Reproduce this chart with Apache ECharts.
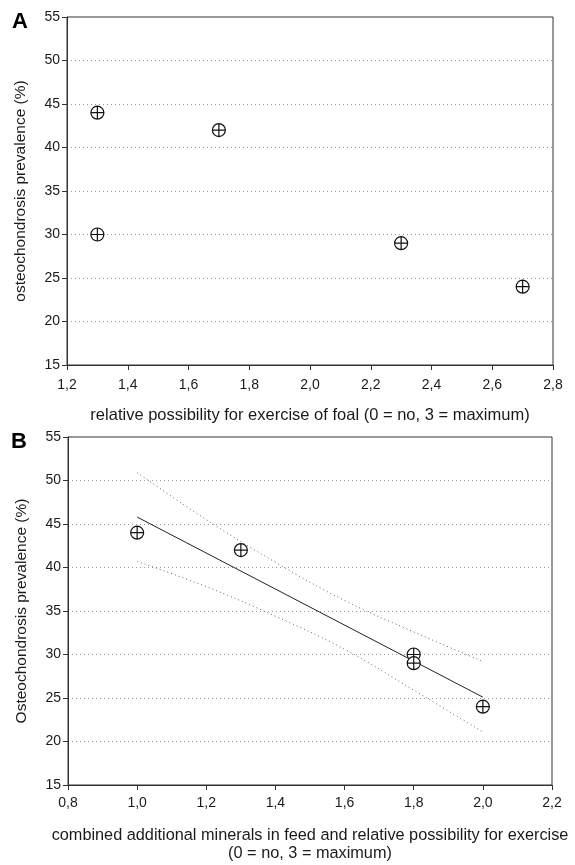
<!DOCTYPE html>
<html>
<head>
<meta charset="utf-8">
<script src="https://cdn.jsdelivr.net/npm/echarts@6/dist/echarts.min.js"></script>
<style>
html,body{margin:0;padding:0;background:#fff;}
#c{width:575px;height:865px;}
</style>
</head>
<body>
<div id="c"></div>
<script>
// Panel A data
const aX = [1.3, 1.3, 1.7, 2.3, 2.7];
const aY = [44, 30, 42, 29, 24];
// Panel B data
const bX = [1.0, 1.3, 1.8, 1.8, 2.0];
const bY = [44, 42, 30, 29, 24];
// Panel B regression line (endpoints)
const regX = [1.0, 2.0];
const regY = [45.8, 25.1];
// Panel B confidence band
const bandX = [1.0, 1.2, 1.4, 1.6, 1.8, 2.0];
const bandUpper = [50.9, 45.5, 40.6, 36.2, 32.6, 29.2];
const bandLower = [40.7, 37.8, 34.4, 30.6, 25.9, 21.1];
// Axis tick settings
const yTicks = {min: 15, max: 55, interval: 5};
const aXTicks = {min: 1.2, max: 2.8, interval: 0.2};
const bXTicks = {min: 0.8, max: 2.2, interval: 0.2};

const FONT = 'Liberation Sans, Arial, sans-serif';
const TXT = '#1a1a1a';
const marker = 'path://M0,-10A10,10 0 1,1 0,10A10,10 0 1,1 0,-10ZM-10,0L10,0M0,-10L0,10';
const fmt = v => v.toFixed(1).replace('.', ',');
const zip = (xs, ys) => xs.map((x, i) => [x, ys[i]]);

function xAxis(idx, t, name, gap, nameSize, margin) {
  return {
    type: 'value', gridIndex: idx, min: t.min, max: t.max, interval: t.interval,
    name: name, nameLocation: 'middle', nameGap: gap,
    nameTextStyle: {fontFamily: FONT, fontSize: nameSize, color: TXT, lineHeight: 18},
    axisLine: {show: true, lineStyle: {color: '#333', width: 1}},
    axisTick: {show: true, length: 5, lineStyle: {color: '#333'}},
    axisLabel: {formatter: fmt, fontFamily: FONT, fontSize: 14, color: TXT, margin: margin},
    splitLine: {show: false}
  };
}
function yAxis(idx, name) {
  return {
    type: 'value', gridIndex: idx, min: yTicks.min, max: yTicks.max, interval: yTicks.interval,
    name: name, nameLocation: 'middle', nameGap: 38,
    nameTextStyle: {fontFamily: FONT, fontSize: 15.5, color: TXT},
    axisLine: {show: true, lineStyle: {color: '#333', width: 1}},
    axisTick: {show: true, length: 5, lineStyle: {color: '#333'}},
    axisLabel: {fontFamily: FONT, fontSize: 14, color: TXT, margin: 7},
    splitLine: {show: true, lineStyle: {color: '#999', type: [1, 3], width: 1}}
  };
}
const scatterStyle = {
  type: 'scatter', symbol: marker, symbolSize: 13,
  itemStyle: {color: '#fff', borderColor: '#111', borderWidth: 1.2, opacity: 1},
  z: 5
};

const chart = echarts.init(document.getElementById('c'), null, {renderer: 'canvas'});
chart.setOption({
  animation: false,
  backgroundColor: '#fff',
  grid: [
    {left: 67, right: 22, top: 17, height: 348, containLabel: false, outerBoundsMode: 'none',
     show: true, borderColor: '#333', borderWidth: 1, backgroundColor: 'transparent'},
    {left: 68, right: 23, top: 437, height: 348, containLabel: false, outerBoundsMode: 'none',
     show: true, borderColor: '#333', borderWidth: 1, backgroundColor: 'transparent'}
  ],
  xAxis: [
    xAxis(0, aXTicks, 'relative possibility for exercise of foal (0 = no, 3 = maximum)', 41, 16.5, 13),
    xAxis(1, bXTicks, 'combined additional minerals in feed and relative possibility for exercise\n(0 = no, 3 = maximum)', 42, 16.3, 11)
  ],
  yAxis: [
    yAxis(0, 'osteochondrosis prevalence (%)'),
    yAxis(1, 'Osteochondrosis prevalence (%)')
  ],
  graphic: [
    {type: 'text', left: 12, top: 11, style: {text: 'A', font: 'bold 22px ' + FONT, fill: '#000'}},
    {type: 'text', left: 11, top: 431, style: {text: 'B', font: 'bold 22px ' + FONT, fill: '#000'}}
  ],
  series: [
    Object.assign({}, scatterStyle, {xAxisIndex: 0, yAxisIndex: 0, data: zip(aX, aY)}),
    {type: 'line', xAxisIndex: 1, yAxisIndex: 1, data: zip(bandX, bandUpper), smooth: 0.4, symbol: 'none',
     lineStyle: {color: '#666', width: 1, type: [1, 3]}},
    {type: 'line', xAxisIndex: 1, yAxisIndex: 1, data: zip(bandX, bandLower), smooth: 0.4, symbol: 'none',
     lineStyle: {color: '#666', width: 1, type: [1, 3]}},
    {type: 'line', xAxisIndex: 1, yAxisIndex: 1, data: zip(regX, regY), symbol: 'none',
     lineStyle: {color: '#222', width: 1}},
    Object.assign({}, scatterStyle, {xAxisIndex: 1, yAxisIndex: 1, data: zip(bX, bY)})
  ]
});
</script>
</body>
</html>
